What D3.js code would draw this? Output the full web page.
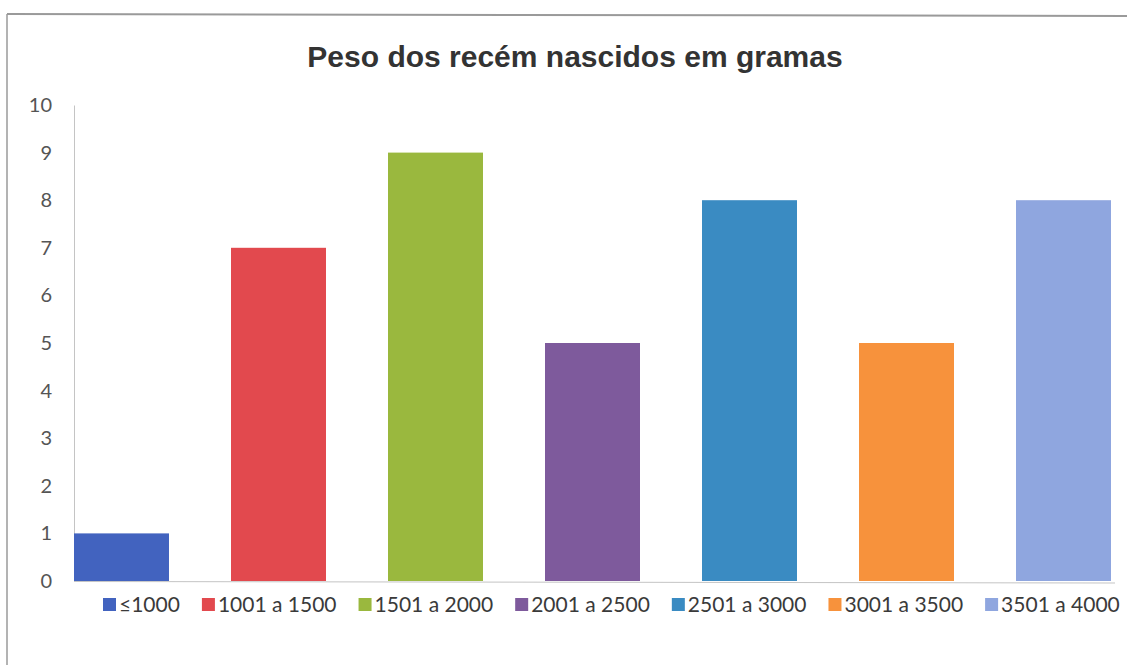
<!DOCTYPE html>
<html>
<head>
<meta charset="utf-8">
<script src="https://cdn.jsdelivr.net/npm/d3@7"></script>
<style>
  body { margin: 0; background: #fff; }
  svg { display: block; }
</style>
</head>
<body>
<script>
// faixas de peso (categorias) e contagens
var categorias = ["\u22641000", "1001 a 1500", "1501 a 2000", "2001 a 2500", "2501 a 3000", "3001 a 3500", "3501 a 4000"];
var valores = [1, 7, 9, 5, 8, 5, 8];
var cores = ["#4263bf", "#e2494e", "#9ab83e", "#7e5a9c", "#3a8bc2", "#f7923c", "#8fa6df"];
var yTicks = [0, 1, 2, 3, 4, 5, 6, 7, 8, 9, 10];

var width = 1127, height = 665;
var plot = {left: 74, right: 1111, top: 105, bottom: 581};

var svg = d3.select("body").append("svg")
    .attr("width", width)
    .attr("height", height);

// moldura do grafico (so topo e esquerda aparecem no recorte)
svg.append("line")
    .attr("x1", 7).attr("y1", 14).attr("x2", width).attr("y2", 16)
    .attr("stroke", "#9a9a9a").attr("stroke-width", 2);
svg.append("line")
    .attr("x1", 7).attr("y1", 14).attr("x2", 7).attr("y2", height)
    .attr("stroke", "#9a9a9a").attr("stroke-width", 1.5);

svg.append("text")
    .attr("x", 575)
    .attr("y", 67)
    .attr("text-anchor", "middle")
    .attr("font-family", "Liberation Sans, Arial, sans-serif")
    .attr("font-weight", "bold")
    .attr("font-size", 30)
    .attr("fill", "#333")
    .text("Peso dos rec\u00e9m nascidos em gramas");

var x = d3.scaleBand()
    .domain(categorias)
    .range([plot.left, plot.right])
    .paddingInner(0.395)
    .paddingOuter(0);

var y = d3.scaleLinear()
    .domain([0, 10])
    .range([plot.bottom, plot.top]);

var yAxis = svg.append("g")
    .attr("transform", "translate(" + plot.left + ",0)")
    .call(d3.axisLeft(y).tickValues(yTicks).tickSize(0).tickPadding(22));
yAxis.select(".domain").attr("stroke", "#c4c4c4");
yAxis.selectAll("text")
    .attr("font-family", "Lato, Open Sans, sans-serif")
    .attr("font-size", 20)
    .attr("fill", "#555");

svg.selectAll(".bar")
    .data(valores)
    .enter()
    .append("rect")
    .attr("class", "bar")
    .attr("x", function(d, i) { return x(categorias[i]); })
    .attr("y", function(d) { return y(d); })
    .attr("width", x.bandwidth())
    .attr("height", function(d) { return y(0) - y(d); })
    .attr("fill", function(d, i) { return cores[i]; });

// eixo x sem rotulos
svg.append("line")
    .attr("x1", plot.left).attr("x2", plot.right + 4)
    .attr("y1", plot.bottom + 0.5).attr("y2", plot.bottom + 2)
    .attr("stroke", "#c4c4c4");

// legenda
var legenda = svg.append("g")
    .attr("font-family", "Lato, Open Sans, sans-serif")
    .attr("font-size", 21)
    .attr("fill", "#3a3a3a");

var lx = 103;
categorias.forEach(function(c, i) {
    var g = legenda.append("g").attr("transform", "translate(" + lx + ",612)");
    g.append("rect")
        .attr("x", 0).attr("y", -14)
        .attr("width", 13).attr("height", 13)
        .attr("fill", cores[i]);
    var t = g.append("text")
        .attr("x", 16).attr("y", 0)
        .text(c);
    lx += 16 + t.node().getComputedTextLength() + 22;
});
</script>
</body>
</html>
